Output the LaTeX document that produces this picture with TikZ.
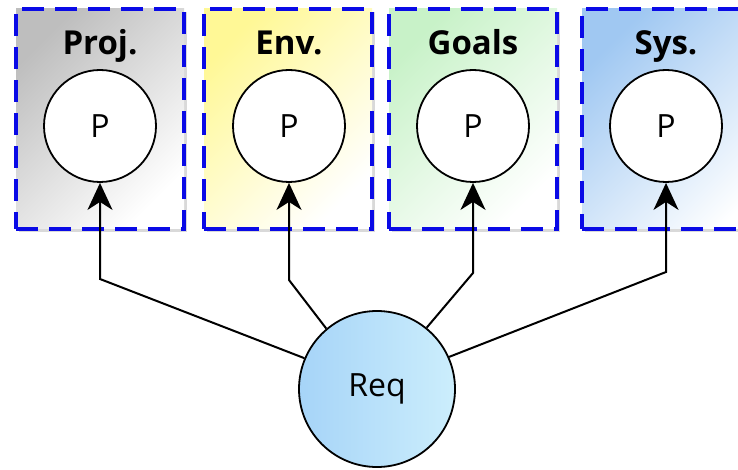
\documentclass[tikz,border=0pt]{standalone}
\usepackage{fontspec}
\setsansfont{Open Sans}
\usetikzlibrary{positioning,shadows,arrows.meta}

\definecolor{lanegray}{RGB}{190,190,190}
\definecolor{laneyellow}{RGB}{255,248,150}
\definecolor{lanegreen}{RGB}{200,242,200}
\definecolor{laneblue}{RGB}{160,200,242}
\definecolor{reqleft}{RGB}{166,212,248}
\definecolor{reqright}{RGB}{204,238,252}
\definecolor{dashblue}{RGB}{10,10,230}

\begin{document}
\begin{tikzpicture}[x=1pt,y=1pt]
\tikzset{
  lane/.style={draw=dashblue, line width=4pt, dash pattern=on 22pt off 11pt,
    minimum width=168pt, minimum height=220pt,
    drop shadow={shadow xshift=3pt, shadow yshift=-3pt, opacity=0.3}},
  place/.style={circle, draw, line width=1.8pt, fill=white, minimum size=112pt,
    font=\sffamily\fontsize{32}{32}\selectfont},
  title/.style={font=\sffamily\bfseries\fontsize{33}{33}\selectfont, anchor=base},
  link/.style={line width=2pt, -{Stealth[length=27pt,width=25pt,inset=8pt]}}
}
\useasboundingbox (0,0) rectangle (738,469);
\clip (0,0) rectangle (738,469);

% lanes
\node[lane, top color=lanegray, bottom color=white, shading angle=45] (proj) at (100,350) {};
\node[lane, top color=laneyellow, bottom color=white, shading angle=45] (env) at (288,350) {};
\node[lane, top color=lanegreen, bottom color=white, shading angle=45] (goals) at (473,350) {};
\node[lane, top color=laneblue, bottom color=white, shading angle=45,
  minimum width=200pt] (sys) at (682,350) {};

% places
\node[place] (p1) at (100,343) {P};
\node[place] (p2) at (289,343) {P};
\node[place] (p3) at (473,343) {P};
\node[place] (p4) at (666,343) {P};

\node[title] (tproj) at ([yshift=15pt]p1.north) {Proj.};
\node[title] (tenv) at ([yshift=15pt]p2.north) {Env.};
\node[title] (tgoals) at ([yshift=15pt]p3.north) {Goals};
\node[title] (tsys) at ([yshift=15pt]p4.north) {Sys.};

\node[circle, draw, line width=1.8pt, left color=reqleft, right color=reqright,
  minimum size=156pt, font=\sffamily\fontsize{32}{32}\selectfont] (req) at (377,80) {Req};

% links
\draw[link] (req.157) -- (p1 |- 0,190) -- (p1);
\draw[link] (req.130) -- (p2 |- 0,189) -- (p2);
\draw[link] (req.51) -- (p3 |- 0,196) -- (p3);
\draw[link] (req.24) -- (p4 |- 0,197) -- (p4);
\end{tikzpicture}
\end{document}
